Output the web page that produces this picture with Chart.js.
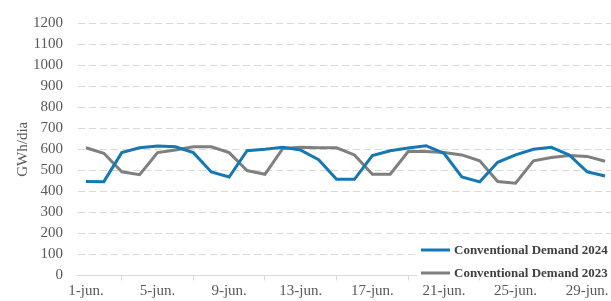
<!DOCTYPE html>
<html>
<head>
<meta charset="utf-8">
<script src="https://cdn.jsdelivr.net/npm/chart.js@4.4.1/dist/chart.umd.min.js"></script>
<style>
  html, body { margin: 0; padding: 0; background: #fff; overflow: hidden; }
  #wrap { width: 618px; height: 301px; }
</style>
</head>
<body>
<div id="wrap"><canvas id="chart" width="618" height="301"></canvas></div>
<script>
// June days
const days = [];
for (let d = 1; d <= 30; d++) days.push(d + "-jun.");

// GWh/dia
const demand2024 = [447, 446, 584, 607, 615, 612, 584, 492, 468, 593,
                    600, 610, 596, 550, 457, 457, 570, 593, 606, 617,
                    581, 468, 445, 538, 573, 600, 609, 573, 493, 473];
const demand2023 = [607, 581, 493, 479, 584, 596, 612, 612, 584, 499,
                    481, 604, 609, 607, 607, 573, 481, 481, 589, 589,
                    584, 573, 545, 447, 439, 545, 561, 570, 566, 543];

const yTicks = [0, 100, 200, 300, 400, 500, 600, 700, 800, 900, 1000, 1100, 1200];

const serif = "'Liberation Serif', 'DejaVu Serif', serif";
const grey = "#595959";

// legend drawn inside the plot, bottom right, like the original
const cornerLegend = {
  id: "cornerLegend",
  afterDatasetsDraw(chart) {
    const ctx = chart.ctx;
    ctx.save();
    ctx.fillStyle = "#fff";
    ctx.fillRect(417, 240, 210, 38);
    ctx.font = "bold 13px " + serif;
    ctx.textBaseline = "middle";
    const rows = [250, 273];
    chart.data.datasets.forEach((ds, i) => {
      ctx.strokeStyle = ds.borderColor;
      ctx.lineWidth = 3;
      ctx.beginPath();
      ctx.moveTo(421, rows[i]);
      ctx.lineTo(450, rows[i]);
      ctx.stroke();
      ctx.fillStyle = "#404040";
      ctx.fillText(ds.label, 454, rows[i] + 1);
    });
    ctx.restore();
  }
};

new Chart(document.getElementById("chart").getContext("2d"), {
  type: "line",
  data: {
    labels: days,
    datasets: [
      {
        label: "Conventional Demand 2024",
        data: demand2024,
        borderColor: "#1478b4",
        borderWidth: 3,
        pointRadius: 0,
        tension: 0,
      },
      {
        label: "Conventional Demand 2023",
        data: demand2023,
        borderColor: "#7f7f7f",
        borderWidth: 3,
        pointRadius: 0,
        tension: 0,
      },
    ],
  },
  options: {
    responsive: false,
    animation: false,
    layout: { padding: { top: 16, right: 4, left: 0, bottom: 0 } },
    plugins: {
      legend: { display: false },
      tooltip: { enabled: false },
    },
    scales: {
      x: {
        offset: true,
        grid: {
          offset: true,
          drawOnChartArea: false,
          tickLength: 5,
          color: "#d9d9d9",
        },
        border: { color: "#d9d9d9", width: 1 },
        ticks: {
          autoSkip: false,
          maxRotation: 0,
          padding: 2,
          color: grey,
          font: { family: serif, size: 15 },
          callback: function (v, i) { return i % 4 === 0 ? this.getLabelForValue(v) : null; },
        },
        afterFit: (s) => { s.height = 25.5; },
      },
      y: {
        min: 0,
        max: 1200,
        afterBuildTicks: (s) => { s.ticks = yTicks.map((v) => ({ value: v })); },
        grid: {
          drawTicks: false,
          color: (c) => (c.tick && c.tick.value === 0 ? "rgba(0,0,0,0)" : "#d9d9d9"),
        },
        border: { display: true, color: "rgba(0,0,0,0)", dash: [7, 4] },
        ticks: {
          padding: 14,
          color: grey,
          font: { family: serif, size: 15 },
          callback: (v) => String(v),
        },
        title: {
          display: true,
          text: "GWh/dia",
          color: grey,
          font: { family: serif, size: 15 },
          padding: { top: 14, bottom: 0 },
        },
        afterFit: (s) => { s.width = 77; },
      },
    },
  },
  plugins: [cornerLegend],
});
</script>
</body>
</html>
